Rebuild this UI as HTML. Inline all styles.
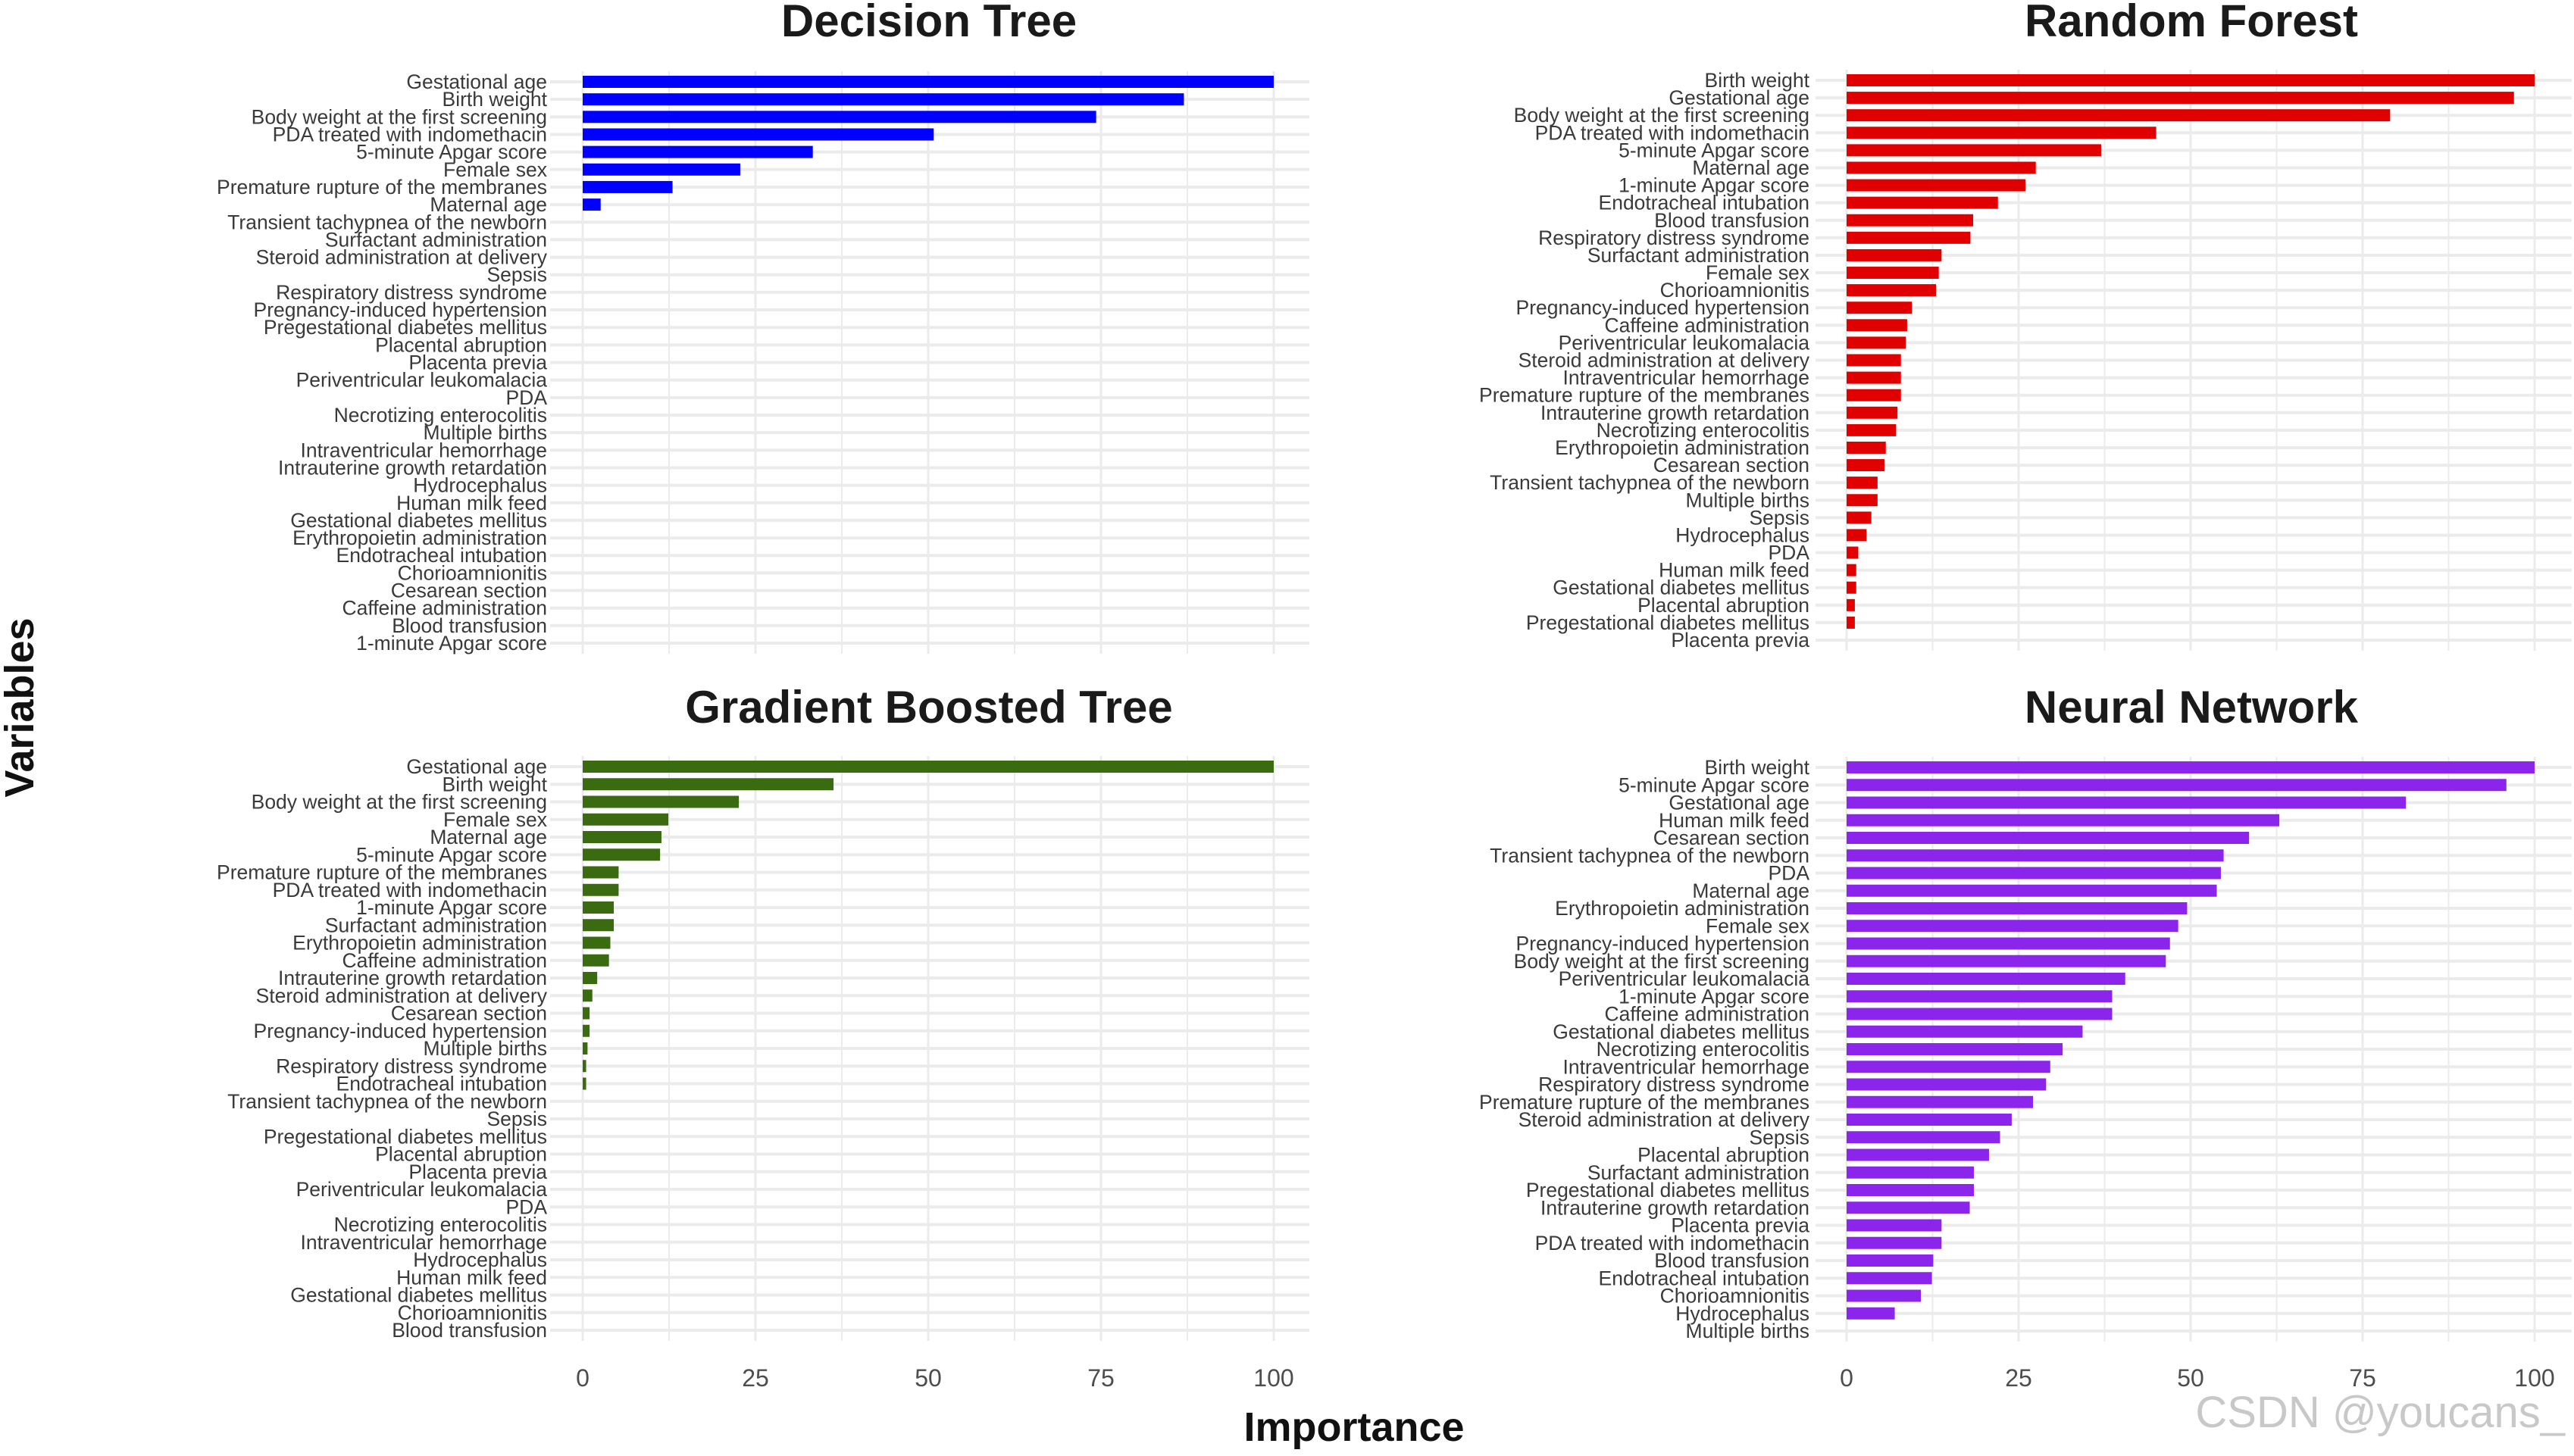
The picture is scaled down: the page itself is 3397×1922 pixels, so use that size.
<!DOCTYPE html>
<html><head><meta charset="utf-8"><style>
html,body{margin:0;padding:0;background:#fff;}
svg{display:block;font-family:"Liberation Sans",Arial,sans-serif;}
</style></head><body>
<svg id="chart" width="3397" height="1922" viewBox="0 0 3397 1922" xmlns="http://www.w3.org/2000/svg">
<rect width="3397" height="1922" fill="#fff"/>
<text x="0" y="0" transform="translate(44,934) rotate(-90)" text-anchor="middle" font-size="54" font-weight="bold" fill="#111">Variables</text>
<text x="1787" y="1902" text-anchor="middle" font-size="54" font-weight="bold" fill="#111">Importance</text>
<text x="3385" y="1884" text-anchor="end" font-size="58" fill="#c8c8c8">CSDN @youcans_</text>
<g id="panels"></g>
</svg>
<script>
const dtLabels=["Gestational age","Birth weight","Body weight at the first screening","PDA treated with indomethacin","5-minute Apgar score","Female sex","Premature rupture of the membranes","Maternal age","Transient tachypnea of the newborn","Surfactant administration","Steroid administration at delivery","Sepsis","Respiratory distress syndrome","Pregnancy-induced hypertension","Pregestational diabetes mellitus","Placental abruption","Placenta previa","Periventricular leukomalacia","PDA","Necrotizing enterocolitis","Multiple births","Intraventricular hemorrhage","Intrauterine growth retardation","Hydrocephalus","Human milk feed","Gestational diabetes mellitus","Erythropoietin administration","Endotracheal intubation","Chorioamnionitis","Cesarean section","Caffeine administration","Blood transfusion","1-minute Apgar score"];
const dtValues=[100,87,74.3,50.8,33.3,22.8,13,2.6,0,0,0,0,0,0,0,0,0,0,0,0,0,0,0,0,0,0,0,0,0,0,0,0,0];
const rfLabels=["Birth weight","Gestational age","Body weight at the first screening","PDA treated with indomethacin","5-minute Apgar score","Maternal age","1-minute Apgar score","Endotracheal intubation","Blood transfusion","Respiratory distress syndrome","Surfactant administration","Female sex","Chorioamnionitis","Pregnancy-induced hypertension","Caffeine administration","Periventricular leukomalacia","Steroid administration at delivery","Intraventricular hemorrhage","Premature rupture of the membranes","Intrauterine growth retardation","Necrotizing enterocolitis","Erythropoietin administration","Cesarean section","Transient tachypnea of the newborn","Multiple births","Sepsis","Hydrocephalus","PDA","Human milk feed","Gestational diabetes mellitus","Placental abruption","Pregestational diabetes mellitus","Placenta previa"];
const rfValues=[100,97,79,45,37,27.5,26,22,18.4,18,13.8,13.4,13,9.5,8.8,8.6,7.9,7.9,7.9,7.4,7.2,5.7,5.5,4.5,4.5,3.6,2.9,1.7,1.4,1.4,1.2,1.2,0];
const gbLabels=["Gestational age","Birth weight","Body weight at the first screening","Female sex","Maternal age","5-minute Apgar score","Premature rupture of the membranes","PDA treated with indomethacin","1-minute Apgar score","Surfactant administration","Erythropoietin administration","Caffeine administration","Intrauterine growth retardation","Steroid administration at delivery","Cesarean section","Pregnancy-induced hypertension","Multiple births","Respiratory distress syndrome","Endotracheal intubation","Transient tachypnea of the newborn","Sepsis","Pregestational diabetes mellitus","Placental abruption","Placenta previa","Periventricular leukomalacia","PDA","Necrotizing enterocolitis","Intraventricular hemorrhage","Hydrocephalus","Human milk feed","Gestational diabetes mellitus","Chorioamnionitis","Blood transfusion"];
const gbValues=[100,36.3,22.6,12.4,11.4,11.2,5.2,5.2,4.5,4.5,4,3.8,2.1,1.4,1,1,0.7,0.5,0.5,0,0,0,0,0,0,0,0,0,0,0,0,0,0];
const nnLabels=["Birth weight","5-minute Apgar score","Gestational age","Human milk feed","Cesarean section","Transient tachypnea of the newborn","PDA","Maternal age","Erythropoietin administration","Female sex","Pregnancy-induced hypertension","Body weight at the first screening","Periventricular leukomalacia","1-minute Apgar score","Caffeine administration","Gestational diabetes mellitus","Necrotizing enterocolitis","Intraventricular hemorrhage","Respiratory distress syndrome","Premature rupture of the membranes","Steroid administration at delivery","Sepsis","Placental abruption","Surfactant administration","Pregestational diabetes mellitus","Intrauterine growth retardation","Placenta previa","PDA treated with indomethacin","Blood transfusion","Endotracheal intubation","Chorioamnionitis","Hydrocephalus","Multiple births"];
const nnValues=[100,95.9,81.3,62.9,58.5,54.8,54.4,53.8,49.5,48.2,47,46.4,40.5,38.6,38.6,34.3,31.4,29.6,29,27.1,24,22.3,20.7,18.5,18.5,17.9,13.8,13.8,12.6,12.4,10.8,7,0];
const tickValues=[0,25,50,75,100];

const NS="http://www.w3.org/2000/svg";
const root=document.getElementById('panels');
function mk(tag,attrs,parent){const e=document.createElementNS(NS,tag);for(const k in attrs)e.setAttribute(k,attrs[k]);parent.appendChild(e);return e;}

function panel(cfg){
  const g=mk('g',{},root);
  
  
  const xs=v=>cfg.x0+(cfg.x100-cfg.x0)*v/100;
  const n=cfg.labels.length;
  const ys=i=>cfg.yTop+(cfg.yBot-cfg.yTop)*i/(n-1);
  const t=mk('text',{x:cfg.tx,y:cfg.ty,'text-anchor':'middle','font-size':60,'font-weight':'bold',fill:'#1a1a1a'},g);
  t.textContent=cfg.title;
  
  
  for(let k=0;k<=8;k++){
    const x=xs(k*12.5);
    const l=mk('line',{x1:x,x2:x,y1:ys(0)-14,y2:ys(n-1)+14,stroke:'#ebebeb','stroke-width':k%2?2:3},g);
    
    
  }
  for(let i=0;i<n;i++){
    const y=ys(i);
    const gl=mk('line',{x1:cfg.gx0,x2:cfg.gx1,y1:y,y2:y,stroke:'#ebebeb','stroke-width':4},g);
    
    
  }
  for(let i=0;i<n;i++){
    const y=ys(i);
    const lab=mk('text',{x:cfg.lx,y:y+9,'text-anchor':'end','font-size':26.5,fill:'#3a3a3a'},g);
    lab.textContent=cfg.labels[i];
    
    
    const v=cfg.values[i];
    if(v>0){
      const b=mk('rect',{x:xs(0),y:y-8,width:xs(v)-xs(0),height:16,fill:cfg.color},g);
      
      
    }
  }
  if(cfg.ticks){
    tickValues.forEach(tv=>{
      const tt=mk('text',{x:xs(tv),y:1830,'text-anchor':'middle','font-size':32,fill:'#4d4d4d'},g);
      tt.textContent=String(tv);
      
      
    });
  }
}
panel({name:'decision-tree-panel',title:'Decision Tree',tx:1226,ty:48,labels:dtLabels,values:dtValues,color:'#0000ff',x0:769,x100:1681,gx0:726,gx1:1728,lx:722,yTop:108,yBot:849,ticks:false});
panel({name:'random-forest-panel',title:'Random Forest',tx:2892,ty:48,labels:rfLabels,values:rfValues,color:'#e00000',x0:2437,x100:3345,gx0:2396,gx1:3394,lx:2388,yTop:106,yBot:845,ticks:false});
panel({name:'gradient-boosted-tree-panel',title:'Gradient Boosted Tree',tx:1226,ty:954,labels:gbLabels,values:gbValues,color:'#3a6b10',x0:769,x100:1681,gx0:726,gx1:1728,lx:722,yTop:1012,yBot:1756,ticks:true});
panel({name:'neural-network-panel',title:'Neural Network',tx:2892,ty:954,labels:nnLabels,values:nnValues,color:'#8b25ec',x0:2437,x100:3345,gx0:2396,gx1:3394,lx:2388,yTop:1013,yBot:1757,ticks:true});
</script>
</body></html>
